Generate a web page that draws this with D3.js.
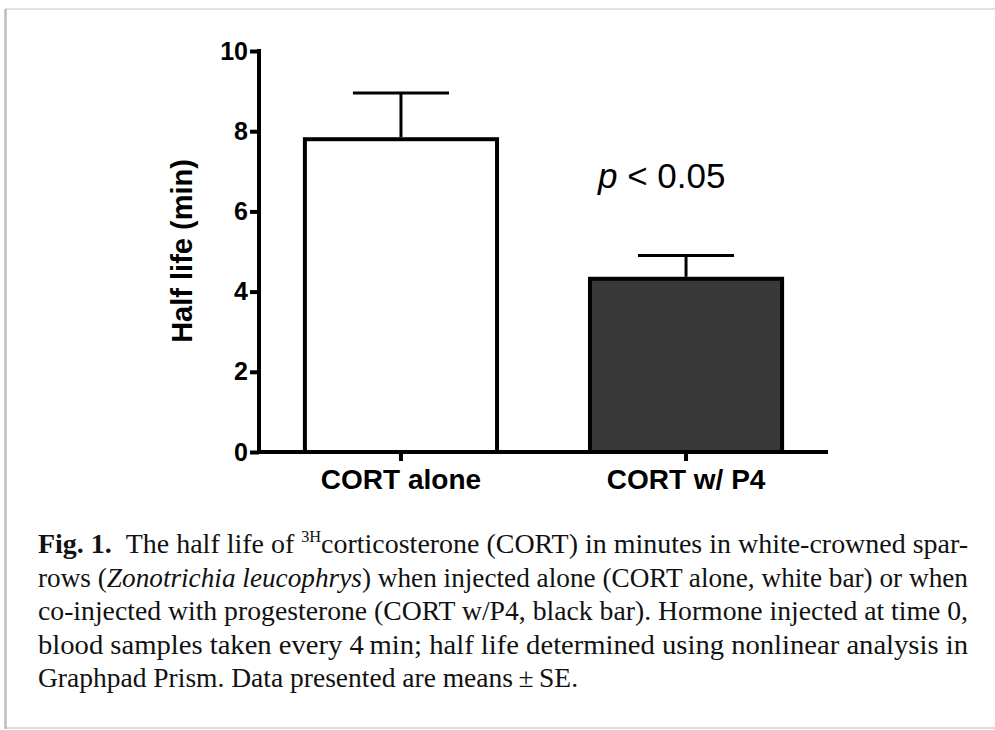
<!DOCTYPE html>
<html>
  <head>
    <meta charset="utf-8">
    <title>Half life of CORT</title>
    <script src="https://d3js.org/d3.v7.min.js"></script>
    <style>
      body { margin: 0; background: #fff; }
      svg { display: block; }
      .tick text { font-family: "Liberation Sans", Arial, sans-serif; font-weight: bold; }
      .caption { font-family: "Liberation Serif", "Times New Roman", serif; fill: #111; }
    </style>
  </head>
  <body>
    <div id="chart"></div>
    <script>
      // data
      var categories = ["CORT alone", "CORT w/ P4"];
      var means = [7.8, 4.32];
      var errors = [1.15, 0.58];
      var fills = ["#ffffff", "#393939"];
      var yTicks = [0, 2, 4, 6, 8, 10];

      var captionLines = [
        [["b", "Fig. 1."], ["", "\u2002The half life of "], ["sup", "3H"], ["", "corticosterone (CORT) in minutes in white-crowned spar-"]],
        [["", "rows ("], ["i", "Zonotrichia leucophrys"], ["", ") when injected alone (CORT alone, white bar) or when"]],
        [["", "co-injected with progesterone (CORT w/P4, black bar). Hormone injected at time 0,"]],
        [["", "blood samples taken every 4\u2009min; half life determined using nonlinear analysis in"]],
        [["", "Graphpad Prism. Data presented are means\u2009\u00b1\u2009SE."]]
      ];

      var W = 995, H = 730;
      var svg = d3.select("#chart").append("svg")
          .attr("width", W)
          .attr("height", H);

      // frame around the figure
      svg.append("line").attr("x1", 5).attr("x2", W).attr("y1", 9).attr("y2", 9)
         .attr("stroke", "#e2e2e2").attr("stroke-width", 2);
      svg.append("line").attr("x1", 5).attr("x2", W).attr("y1", 728).attr("y2", 728)
         .attr("stroke", "#dcdcdc").attr("stroke-width", 2);
      svg.append("line").attr("x1", 5.5).attr("x2", 5.5).attr("y1", 9).attr("y2", 729)
         .attr("stroke", "#bdbdbd").attr("stroke-width", 2.5);

      var x0 = 259, x1 = 828, yTop = 51, yBot = 452;

      var x = d3.scaleBand()
          .domain(categories)
          .range([x0, x1])
          .paddingInner(0.326)
          .paddingOuter(0.161);

      var y = d3.scaleLinear()
          .domain([0, 10])
          .range([yBot, yTop]);

      // bars
      svg.selectAll("rect.bar")
          .data(categories)
          .enter()
          .append("rect")
          .attr("class", "bar")
          .attr("x", function (d) { return x(d); })
          .attr("y", function (d, i) { return y(means[i]); })
          .attr("width", x.bandwidth())
          .attr("height", function (d, i) { return y(0) - y(means[i]); })
          .attr("fill", function (d, i) { return fills[i]; })
          .attr("stroke", "#000")
          .attr("stroke-width", 4);

      // error bars (upper only)
      var eb = svg.selectAll("g.err")
          .data(categories)
          .enter()
          .append("g")
          .attr("class", "err");

      eb.append("line")
          .attr("x1", function (d) { return x(d) + x.bandwidth() / 2; })
          .attr("x2", function (d) { return x(d) + x.bandwidth() / 2; })
          .attr("y1", function (d, i) { return y(means[i]) - 2; })
          .attr("y2", function (d, i) { return y(means[i] + errors[i]); })
          .attr("stroke", "#000").attr("stroke-width", 3);

      eb.append("line")
          .attr("x1", function (d) { return x(d) + x.bandwidth() / 4; })
          .attr("x2", function (d) { return x(d) + x.bandwidth() * 3 / 4; })
          .attr("y1", function (d, i) { return y(means[i] + errors[i]); })
          .attr("y2", function (d, i) { return y(means[i] + errors[i]); })
          .attr("stroke", "#000").attr("stroke-width", 3);

      // y axis
      var yAxis = svg.append("g")
          .attr("transform", "translate(" + x0 + ",0)")
          .call(d3.axisLeft(y).tickValues(yTicks).tickSize(9).tickPadding(2).tickSizeOuter(0));
      yAxis.select(".domain").attr("stroke-width", 4).attr("d", "M0," + (yBot + 2) + "V" + (yTop - 2));
      yAxis.selectAll(".tick line").attr("stroke-width", 4);
      yAxis.selectAll(".tick text").attr("font-size", 25).attr("fill", "#000");

      // x axis
      var xAxis = svg.append("g")
          .attr("transform", "translate(0," + yBot + ")")
          .call(d3.axisBottom(x).tickSize(9).tickPadding(8).tickSizeOuter(0));
      xAxis.select(".domain").attr("stroke-width", 4).attr("d", "M" + (x0 - 2) + ",0H" + x1);
      xAxis.selectAll(".tick line").attr("stroke-width", 4);
      xAxis.selectAll(".tick text").attr("font-size", 28).attr("fill", "#000");

      // y axis title
      svg.append("text")
          .attr("transform", "translate(192,251) rotate(-90)")
          .attr("text-anchor", "middle")
          .style("font-family", "'Liberation Sans', Arial, sans-serif")
          .style("font-weight", "bold")
          .style("font-size", "29px")
          .text("Half life (min)");

      // significance note
      var pt = svg.append("text")
          .attr("x", 598)
          .attr("y", 188)
          .style("font-family", "'Liberation Sans', Arial, sans-serif")
          .style("font-size", "35px");
      pt.append("tspan").style("font-style", "italic").text("p");
      pt.append("tspan").text(" < 0.05");

      // caption
      var capX = 38, capW = 930, capY0 = 553, capDy = 33.5;
      captionLines.forEach(function (parts, li) {
        var t = svg.append("text")
            .attr("class", "caption")
            .attr("x", capX)
            .attr("y", capY0 + li * capDy)
            .style("font-size", "27.5px");
        if (li < captionLines.length - 1) {
          t.attr("textLength", capW).attr("lengthAdjust", "spacingAndGlyphs");
        }
        parts.forEach(function (p) {
          var s = t.append("tspan").text(p[1]);
          if (p[0] === "b") s.style("font-weight", "bold");
          if (p[0] === "i") s.style("font-style", "italic");
          if (p[0] === "sup") s.style("font-size", "16px").attr("dy", -11);
          if (p[0] === "" && li === 0 && p[1].indexOf("corticosterone") === 0) s.attr("dy", 11);
        });
      });
    </script>
  </body>
</html>
